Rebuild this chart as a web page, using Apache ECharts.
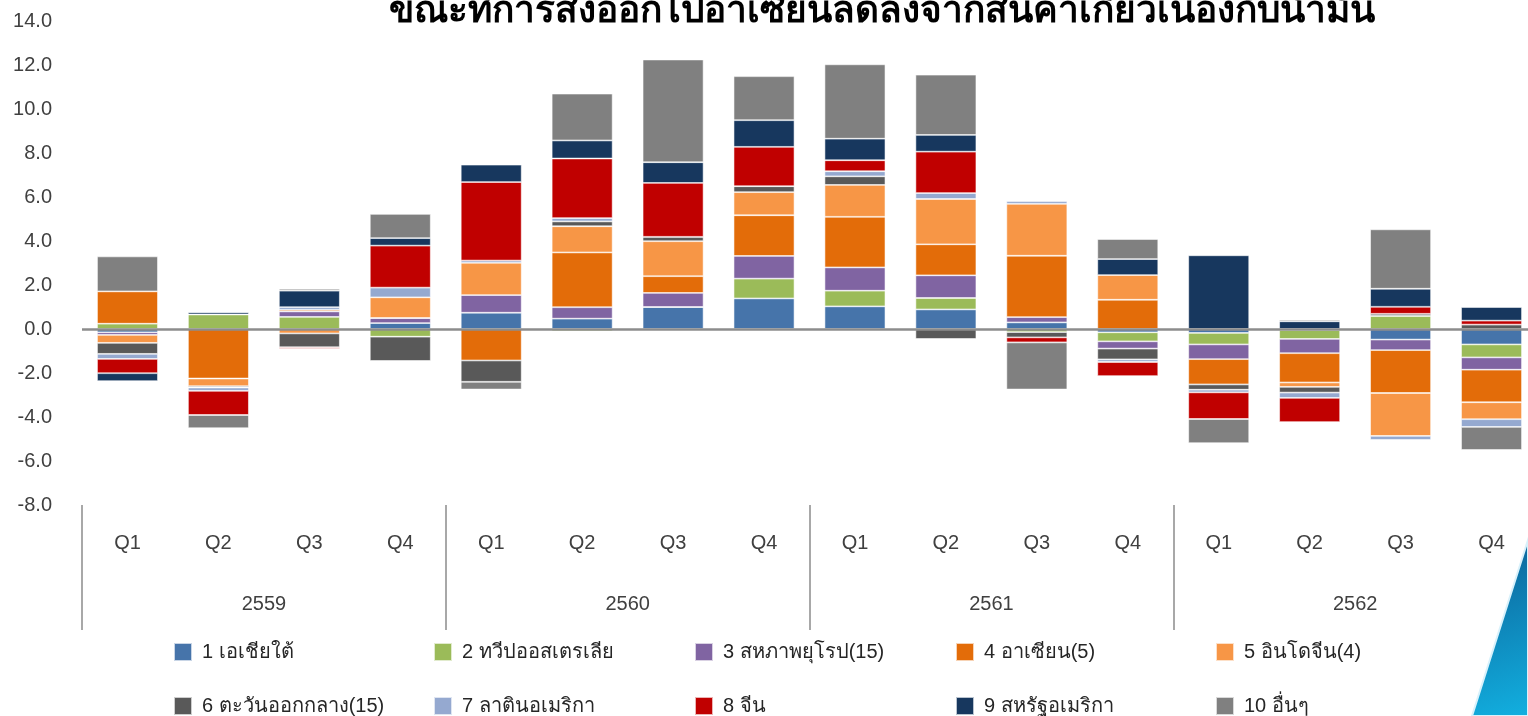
<!DOCTYPE html>
<html>
<head>
<meta charset="utf-8">
<script src="https://cdn.jsdelivr.net/npm/echarts@6/dist/echarts.min.js"></script>
<style>
  html, body { margin: 0; padding: 0; background: #fff; }
  #chart { width: 1528px; height: 716px; }
</style>
</head>
<body>
<div id="chart"></div>
<script>
// quarters and years (Thai Buddhist era)
const quarters = ['Q1', 'Q2', 'Q3', 'Q4', 'Q1', 'Q2', 'Q3', 'Q4', 'Q1', 'Q2', 'Q3', 'Q4', 'Q1', 'Q2', 'Q3', 'Q4'];
const years = ['2559', '2560', '2561', '2562'];
const yTicks = { min: -8, max: 14, interval: 2 };

const seriesNames = [
  '1 เอเชียใต้', '2 ทวีปออสเตรเลีย', '3 สหภาพยุโรป(15)', '4 อาเซียน(5)', '5 อินโดจีน(4)',
  '6 ตะวันออกกลาง(15)', '7 ลาตินอเมริกา', '8 จีน', '9 สหรัฐอเมริกา', '10 อื่นๆ'
];

// contribution to growth, percentage points
const southAsia   = [-0.15, 0, 0, 0.27, 0.74, 0.47, 1.0, 1.39, 1.03, 0.89, 0.3, -0.15, -0.18, -0.05, -0.48, -0.7];
const australia   = [0.24, 0.66, 0.55, -0.35, 0, -0.1, 0, 0.9, 0.71, 0.52, -0.14, -0.41, -0.52, -0.4, 0.59, -0.59];
const eu15        = [-0.12, 0, 0.25, 0.23, 0.8, 0.52, 0.64, 1.03, 1.06, 1.03, 0.24, -0.33, -0.67, -0.65, -0.48, -0.56];
const asean5      = [1.47, -2.25, 0.07, 0, -1.43, 2.49, 0.76, 1.85, 2.3, 1.41, 2.79, 1.33, -1.15, -1.33, -1.95, -1.48];
const indochina4  = [-0.36, -0.35, -0.2, 0.94, 1.47, 1.19, 1.59, 1.05, 1.45, 2.06, 2.36, 1.12, 0, -0.2, -1.95, -0.77];
const middleEast  = [-0.5, -0.06, -0.63, -1.1, -0.97, 0.22, 0.2, 0.27, 0.39, -0.45, -0.24, -0.49, -0.24, -0.26, 0.1, 0.2];
const latinAm     = [-0.23, -0.15, 0.12, 0.44, 0.1, 0.15, 0, 0, 0.23, 0.27, 0.12, -0.12, -0.12, -0.24, -0.18, -0.35];
const china       = [-0.65, -1.1, -0.06, 1.91, 3.57, 2.71, 2.45, 1.79, 0.5, 1.88, -0.23, -0.64, -1.21, -1.1, 0.32, 0.18];
const usa         = [-0.36, 0.1, 0.75, 0.34, 0.79, 0.82, 0.94, 1.21, 0.98, 0.76, 0, 0.73, 3.35, 0.35, 0.82, 0.62];
const others      = [1.59, -0.6, 0.09, 1.1, -0.35, 2.13, 4.67, 2.0, 3.38, 2.74, -2.14, 0.91, -1.1, 0.07, 2.7, -1.05];

const allValues = [southAsia, australia, eu15, asean5, indochina4, middleEast, latinAm, china, usa, others];
const colors = ['#4674AA', '#9BBB59', '#8064A2', '#E36C09', '#F79646', '#595959', '#95A9D0', '#C00000', '#17375E', '#808080'];

const font = '"Liberation Sans", "Noto Sans", sans-serif';

const chart = echarts.init(document.getElementById('chart'));

const series = allValues.map((vals, i) => {
  const s = {
    name: seriesNames[i],
    type: 'bar',
    stack: 'total',
    xAxisIndex: 0,
    barCategoryGap: '33%',
    data: vals,
    itemStyle: { color: colors[i], borderColor: 'rgba(255,255,255,0.7)', borderWidth: 0.8 },
    emphasis: { disabled: true }
  };
  if (i === 0) {
    s.markLine = {
      silent: true,
      symbol: 'none',
      label: { show: false },
      lineStyle: { color: '#8c8c8c', width: 2.5, type: 'solid' },
      data: [{ yAxis: 0 }]
    };
  }
  return s;
});

// legend: two rows of five, fixed columns
const legendCols = [173, 433, 694, 955, 1215];
const legendRows = [642, 696];
const legends = seriesNames.map((name, i) => ({
  data: [name],
  left: legendCols[i % 5],
  top: legendRows[Math.floor(i / 5)],
  padding: 0,
  icon: 'rect',
  itemWidth: 18,
  itemHeight: 18,
  selectedMode: false,
  textStyle: { fontSize: 20, color: '#262626', fontFamily: font, padding: [0, 0, 0, 5] }
}));

chart.setOption({
  animation: false,
  color: colors,
  title: {
    text: 'ขณะที่การส่งออกไปอาเซียนลดลงจากสินค้าเกี่ยวเนื่องกับน้ำมัน',
    left: 877,
    top: -12,
    textAlign: 'center',
    textStyle: { fontSize: 37, fontWeight: 'bold', color: '#000', fontFamily: font }
  },
  legend: legends,
  // plot area runs a little past the right edge of the page, as in the source slide
  grid: { left: 82, width: 1455, top: 21, bottom: 211, containLabel: false, outerBoundsMode: 'none' },
  xAxis: [
    {
      type: 'category',
      data: quarters,
      position: 'bottom',
      axisLine: { show: false, onZero: false },
      axisTick: { show: false },
      axisLabel: { margin: 28, fontSize: 20, color: '#404040', fontFamily: font }
    },
    {
      type: 'category',
      data: years,
      position: 'bottom',
      axisLine: { show: false, onZero: false },
      axisTick: { show: true, length: 125, lineStyle: { color: '#8c8c8c', width: 1.5 } },
      axisLabel: { margin: 89, fontSize: 20, color: '#404040', fontFamily: font }
    }
  ],
  yAxis: {
    type: 'value',
    min: yTicks.min,
    max: yTicks.max,
    interval: yTicks.interval,
    splitLine: { show: false },
    axisLine: { show: false },
    axisTick: { show: false },
    axisLabel: {
      margin: 30,
      fontSize: 20,
      color: '#404040',
      fontFamily: font,
      formatter: v => v.toFixed(1)
    }
  },
  graphic: [
    {
      type: 'polygon',
      silent: true,
      shape: { points: [[1528, 540], [1472, 716], [1528, 716]] },
      style: {
        fill: new echarts.graphic.LinearGradient(0, 0, 1, 1, [
          { offset: 0, color: '#0b5f96' },
          { offset: 1, color: '#12b0e0' }
        ]),
        stroke: '#d8f1fb',
        lineWidth: 2
      }
    }
  ],
  series: series
});
</script>
</body>
</html>
